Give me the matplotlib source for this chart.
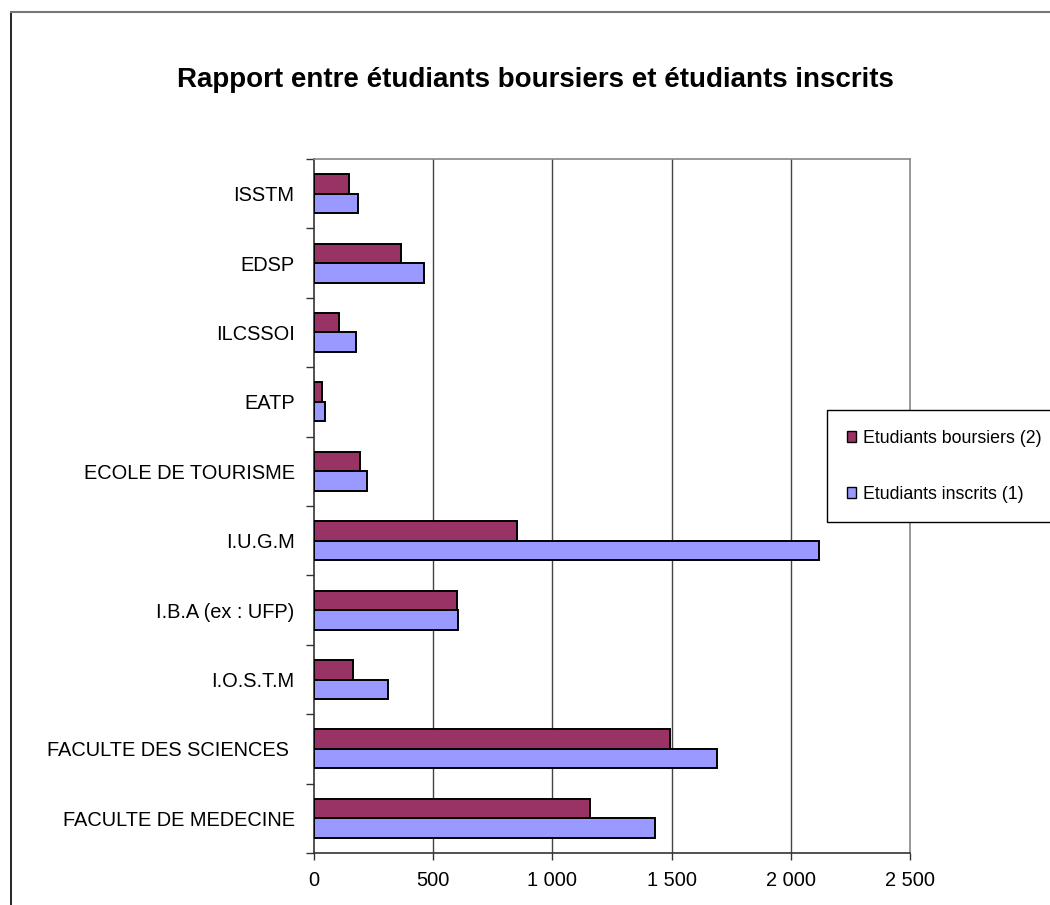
import numpy as np
import matplotlib
matplotlib.use("Agg")
import matplotlib.pyplot as plt
from matplotlib.lines import Line2D
from matplotlib.patches import Patch
from matplotlib.ticker import FuncFormatter, FixedLocator

plt.rcParams["font.family"] = ["Liberation Sans", "DejaVu Sans"]

# bottom to top, as drawn on the chart
categories = [
    "FACULTE DE MEDECINE",
    "FACULTE DES SCIENCES ",
    "I.O.S.T.M",
    "I.B.A (ex : UFP)",
    "I.U.G.M",
    "ECOLE DE TOURISME",
    "EATP",
    "ILCSSOI",
    "EDSP",
    "ISSTM",
]
boursiers = [1157, 1493, 165, 598, 850, 193, 34, 106, 365, 148]
inscrits = [1432, 1689, 312, 604, 2117, 224, 47, 176, 463, 186]
x_ticks = [0, 500, 1000, 1500, 2000, 2500]

COL_BOURS = "#993366"
COL_INSCR = "#9999FF"

W, H = 1050, 905
fig = plt.figure(figsize=(W / 100, H / 100), dpi=100)
ax = fig.add_axes([314 / W, 1 - 853 / H, (910 - 314) / W, (853 - 159) / H])

y = np.arange(len(categories))
bh = 0.28
ax.barh(y + bh / 2, boursiers, height=bh, color=COL_BOURS,
        edgecolor="black", linewidth=1.4, zorder=3)
ax.barh(y - bh / 2, inscrits, height=bh, color=COL_INSCR,
        edgecolor="black", linewidth=1.4, zorder=3)

ax.set_xlim(0, 2500)
ax.set_ylim(-0.5, len(categories) - 0.5)

ax.set_xticks(x_ticks)
ax.xaxis.set_major_formatter(FuncFormatter(lambda v, p: f"{int(v):,}".replace(",", " ")))
ax.tick_params(axis="x", direction="out", length=5, width=1, color="#333333",
               labelsize=14.4, pad=8)

ax.set_yticks(y)
ax.set_yticklabels(categories)
ax.yaxis.set_minor_locator(FixedLocator(np.arange(-0.5, len(categories), 1.0)))
ax.tick_params(axis="y", which="major", length=0, labelsize=14.4, pad=14)
ax.tick_params(axis="y", which="minor", direction="out", length=6, width=1,
               color="#333333")

for xv in x_ticks[1:-1]:
    ax.axvline(xv, color="#444444", linewidth=1, zorder=1)

ax.spines["left"].set_color("#333333")
ax.spines["bottom"].set_color("#333333")
ax.spines["top"].set_color("#888888")
ax.spines["right"].set_color("#888888")
for s in ax.spines.values():
    s.set_linewidth(1.2)

fig.text(535 / W, 1 - 80 / H, "Rapport entre étudiants boursiers et étudiants inscrits",
         ha="center", va="center", fontsize=20, fontweight="bold")

handles = [Patch(facecolor=COL_BOURS, edgecolor="black", linewidth=1.0,
                 label="Etudiants boursiers (2)"),
           Patch(facecolor=COL_INSCR, edgecolor="black", linewidth=1.0,
                 label="Etudiants inscrits (1)")]
leg = fig.legend(handles=handles, loc="upper left",
                 bbox_to_anchor=(827 / W, 1 - 410 / H), bbox_transform=fig.transFigure,
                 fontsize=12.8, frameon=True, fancybox=False, shadow=False,
                 framealpha=1, edgecolor="black", borderpad=1.1,
                 labelspacing=2.2, handlelength=0.55, handleheight=0.55,
                 handletextpad=0.35, borderaxespad=0)
leg.get_frame().set_linewidth(1.0)

# chart-area border (left and top visible)
fig.add_artist(Line2D([10.5 / W, 10.5 / W], [0, 1 - 12 / H], transform=fig.transFigure,
                      color="black", linewidth=1.2))
fig.add_artist(Line2D([10.5 / W, 1], [1 - 12 / H, 1 - 12 / H], transform=fig.transFigure,
                      color="#777777", linewidth=1.5))

fig.savefig("out.png", dpi=100)
